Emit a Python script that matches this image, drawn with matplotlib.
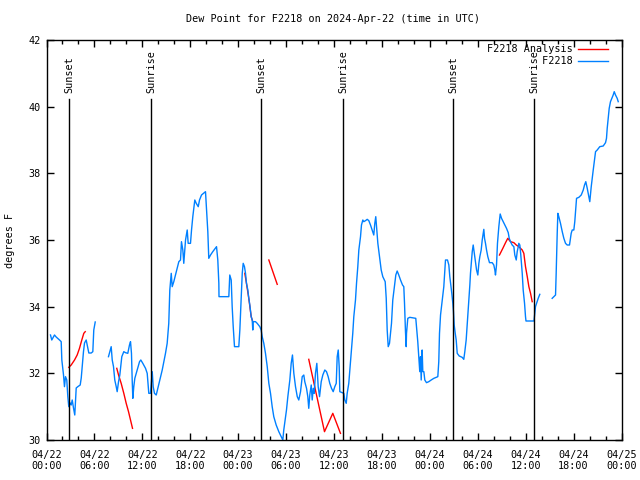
import numpy as np
import pandas as pd
import matplotlib
matplotlib.use("Agg")
import matplotlib.pyplot as plt
import matplotlib.dates as mdates

plt.rcParams['font.family'] = ['DejaVu Sans Mono']
plt.rcParams['font.size'] = 7.3

nan = np.nan
start = pd.Timestamp("2024-04-22 00:00")

# station obs, hours since 04/22 00:00 (nan = missing)
obs_hours = [0.50, 0.66, 1.00, 1.21, 1.63, 1.84, 1.92, 2.13, 2.25, 2.38, 2.54, 2.67, 2.79, 2.97,
             3.09, 3.22, 3.38, 3.54, 3.72, 3.92, 4.22, 4.35, 4.47, 4.63, 4.76, 4.97, 5.10, 5.30,
             5.60, 5.80, 5.92, 6.10, 7.0,
             7.76, 7.93, 8.10, 8.23, 8.39, 8.55, 8.73, 8.85, 9.02, 9.18, 9.43, 9.68, 9.89, 10.18,
             10.39, 10.52, 10.64, 10.73, 10.81, 10.93, 11.06, 11.36, 11.65, 11.81, 12.06, 12.40,
             12.61, 12.74, 12.81, 13.02, 13.24, 13.36, 13.52, 13.74, 13.99, 14.24, 14.49, 14.69,
             14.90, 15.11, 15.31, 15.44, 15.62, 15.74, 15.94, 16.15, 16.37, 16.57, 16.78, 16.90,
             17.07, 17.19, 17.41, 17.62, 17.74, 18.03, 18.16, 18.32, 18.50, 18.57, 18.75, 19.00,
             19.16, 19.41, 19.75, 19.91, 20.07, 20.20, 20.32, 20.54, 20.82, 21.29, 21.45, 21.58,
             21.60, 22.83, 22.95, 23.13, 23.25, 23.38, 23.54, 24.08, 24.21, 24.38, 24.51, 24.63,
             24.79, 24.92, 25.04, 25.21, 25.33, 25.46, 25.63, 25.76, 25.83, 25.88, 26.17, 26.38,
             26.71, 26.88, 27.01, 27.21, 27.42, 27.64, 27.84, 28.05, 28.26, 28.46, 28.76, 29.09,
             29.39, 29.59, 29.71, 30.05, 30.22, 30.47, 30.64, 30.80, 30.97, 31.18, 31.40, 31.59,
             31.81, 32.02, 32.22, 32.34, 32.56, 32.72, 32.84, 32.97, 33.15, 33.27, 33.40, 33.52,
             33.68, 33.85, 34.02, 34.19, 34.40, 34.60, 34.85, 35.06, 35.27, 35.47, 35.69, 35.90,
             36.10, 36.28, 36.40, 36.53, 36.65, 36.73, 37.23, 37.35, 37.53, 37.65, 37.85, 37.98,
             38.15, 38.35, 38.48, 38.69, 38.82, 38.98, 39.11, 39.32, 39.44, 39.61, 39.73, 39.94,
             40.16, 40.36, 40.57, 40.78, 40.98, 41.11, 41.23, 41.36, 41.49, 41.70, 41.91, 42.11,
             42.41, 42.54, 42.66, 42.79, 42.95, 43.08, 43.20, 43.36, 43.58, 43.74, 43.91, 44.11,
             44.33, 44.58, 44.74, 44.83, 44.95, 45.04, 45.08, 45.24, 45.49, 46.24, 46.33, 46.49,
             46.62, 46.74, 46.83, 46.92, 47.04, 47.12, 47.25, 47.37, 47.58, 47.87, 48.17, 48.50,
             49.00, 49.12, 49.21, 49.34, 49.55, 49.75, 49.96, 50.21, 50.38, 50.50, 50.63, 50.75,
             50.88, 50.96, 51.05, 51.18, 51.30, 51.43, 51.68, 52.05, 52.25, 52.38, 52.55, 52.72,
             52.88, 53.01, 53.09, 53.31, 53.43, 53.60, 53.72, 53.85, 54.01, 54.14, 54.26, 54.43,
             54.56, 54.68, 54.76, 54.85, 54.97, 55.10, 55.26, 55.47, 55.81, 56.01, 56.14, 56.22,
             56.35, 56.47, 56.64, 56.81, 56.98, 57.19, 57.39, 57.60, 57.82, 57.94, 58.10, 58.31,
             58.52, 58.64, 58.82, 58.94, 59.07, 59.14, 59.27, 59.39, 59.57, 59.69, 59.86, 59.98,
             60.04, 61.04, 61.23, 61.57, 61.77, 62.5,
             63.32, 63.74, 63.82, 63.95, 64.03, 64.15, 64.36, 64.58, 64.78, 64.99, 65.20, 65.49,
             65.70, 65.83, 66.03, 66.15, 66.28, 66.37, 66.66, 66.96, 67.21, 67.37, 67.53, 67.71,
             67.91, 68.03, 68.21, 68.33, 68.46, 68.62, 68.75, 68.96, 69.28, 69.71, 70.00, 70.12,
             70.21, 70.33, 70.46, 70.62, 70.79, 70.96, 71.09, 71.25, 71.46, 71.59]
obs_dewpt = [33.15, 33.00, 33.15, 33.09, 33.00, 32.95, 32.40, 31.95, 31.60, 31.90, 31.80, 31.30,
             31.00, 31.11, 31.05, 31.20, 30.96, 30.75, 31.56, 31.60, 31.65, 31.86, 32.20, 32.65,
             32.91, 33.00, 32.85, 32.61, 32.61, 32.65, 33.30, 33.54, nan,
             32.50, 32.65, 32.80, 32.40, 32.20, 31.80, 31.60, 31.45, 31.75, 31.95, 32.50, 32.65,
             32.62, 32.60, 32.85, 32.95, 32.60, 31.80, 31.25, 31.60, 31.85, 32.10, 32.35, 32.40,
             32.30, 32.15, 32.00, 31.60, 31.40, 31.40, 32.05, 31.60, 31.40, 31.35, 31.60, 31.85,
             32.10, 32.35, 32.60, 32.90, 33.50, 34.50, 35.00, 34.60, 34.75, 34.95, 35.15, 35.35,
             35.40, 35.95, 35.70, 35.30, 36.00, 36.30, 35.90, 35.90, 36.30, 36.70, 37.05, 37.20,
             37.10, 37.00, 37.20, 37.35, 37.42, 37.45, 36.80, 36.25, 35.45, 35.55, 35.65, 35.80,
             35.40, 34.70, 34.30, 34.30, 34.95, 34.80, 34.00, 33.40, 32.80, 32.80, 33.30, 34.30,
             35.00, 35.30, 35.20, 35.00, 34.70, 34.50, 34.25, 34.05, 33.70, 33.60, 33.30, 33.55,
             33.55, 33.50, 33.40, 33.30, 33.10, 32.90, 32.60, 32.20, 31.70, 31.40, 31.00, 30.70,
             30.45, 30.25, 30.10, 30.00, 30.30, 30.90, 31.30, 31.80, 32.30, 32.55, 32.00, 31.60,
             31.30, 31.20, 31.45, 31.90, 31.95, 31.75, 31.55, 31.30, 30.95, 31.35, 31.65, 31.20,
             31.55, 31.40, 32.00, 32.30, 31.60, 31.30, 31.75, 31.95, 32.10, 32.05, 31.90, 31.70,
             31.55, 31.45, 31.60, 31.70, 32.50, 32.70, 32.20, 31.45, 31.40, 31.20, 31.10, 31.40,
             31.70, 32.10, 32.60, 33.20, 33.70, 34.20, 34.70, 35.20, 35.70, 36.10, 36.45, 36.60,
             36.55, 36.58, 36.62, 36.58, 36.45, 36.30, 36.15, 36.50, 36.70, 36.30, 35.90, 35.50,
             35.10, 34.90, 34.75, 34.25, 33.30, 32.80, 32.90, 33.20, 33.50, 34.20, 34.65, 34.95,
             35.07, 34.95, 34.80, 34.65, 34.60, 34.10, 33.25, 32.80, 33.20, 33.65, 33.68, 33.65,
             33.40, 32.95, 32.50, 32.05, 32.50, 31.80, 32.70, 32.05, 32.05, 31.80, 31.72, 31.75,
             31.80, 31.85, 31.90, 32.35, 33.20, 33.75, 34.20, 34.60, 35.40, 35.40, 35.25, 34.90,
             34.65, 34.40, 34.10, 33.85, 33.45, 33.20, 33.00, 32.60, 32.52, 32.48, 32.42, 32.65,
             33.00, 33.60, 34.20, 34.65, 35.00, 35.65, 35.85, 35.55, 35.35, 35.10, 34.95, 35.30,
             35.50, 35.70, 36.00, 36.20, 36.32, 36.05, 35.90, 35.70, 35.50, 35.32, 35.32, 35.25,
             35.10, 34.95, 35.25, 35.90, 36.40, 36.78, 36.65, 36.55, 36.45, 36.35, 36.22, 36.05,
             35.95, 35.85, 35.80, 35.55, 35.40, 35.65, 35.80, 35.90, 35.85, 35.55, 35.00, 34.50,
             34.10, 33.70, 33.57, 33.57, 34.00, 34.25, 34.37, nan,
             34.25, 34.35, 35.00, 36.20, 36.80, 36.70, 36.50, 36.25, 36.05, 35.90, 35.85, 35.85,
             36.20, 36.30, 36.30, 36.55, 36.95, 37.25, 37.28, 37.35, 37.50, 37.65, 37.75, 37.55,
             37.30, 37.15, 37.60, 37.85, 38.10, 38.40, 38.65, 38.70, 38.80, 38.82, 38.92, 39.05,
             39.35, 39.65, 39.95, 40.15, 40.25, 40.35, 40.45, 40.35, 40.25, 40.15]

# analysis, hours since 04/22 00:00 (nan = break)
ana_hours = [2.79, 3.09, 3.51, 3.84, 4.13, 4.42, 4.67, 4.85, 6.5,
             8.80, 9.02, 9.35, 9.68, 9.98, 10.27, 10.52, 10.77, 12.0,
             24.83, 25.04, 25.33, 25.63, 25.83, 26.5,
             27.84, 28.89, 30.0,
             32.84, 34.81, 35.85, 36.81, 45.0,
             56.72, 57.14, 57.48, 57.76, 58.10, 58.52, 58.82, 59.14, 59.57, 59.77, 59.98, 60.20,
             60.40, 60.61, 60.82]
ana_dewpt = [32.18, 32.25, 32.40, 32.55, 32.75, 33.00, 33.20, 33.25, nan,
             32.15, 31.95, 31.70, 31.40, 31.10, 30.85, 30.60, 30.35, nan,
             35.00, 34.70, 34.25, 33.70, 33.55, nan,
             35.40, 34.67, nan,
             32.42, 30.25, 30.80, 30.20, nan,
             35.55, 35.75, 35.92, 36.05, 35.95, 35.92, 35.85, 35.80, 35.70, 35.60, 35.20, 34.90,
             34.60, 34.40, 34.15]

sunset_hours = [2.85, 26.89, 50.90]
sunrise_hours = [13.13, 37.17, 61.08]


def to_time(h):
    return start + pd.to_timedelta(np.array(h), unit="h")


fig = plt.figure(figsize=(6.4, 4.8), dpi=100)
ax = fig.add_axes([46.5 / 640, 40 / 480, 575 / 640, 400 / 480])

ax.plot(to_time(ana_hours), ana_dewpt, color="#ff0000", lw=1.0, label="F2218 Analysis")
ax.plot(to_time(obs_hours), obs_dewpt, color="#0080ff", lw=1.0, label="         F2218")

# sunrise / sunset markers
for h in sunset_hours:
    t = to_time([h])[0]
    ax.plot([t, t], [30, 40.23], color="black", lw=1.0)
    ax.text(t, 40.42, "Sunset", rotation=90, ha="center", va="bottom")
for h in sunrise_hours:
    t = to_time([h])[0]
    ax.plot([t, t], [30, 40.23], color="black", lw=1.0)
    ax.text(t, 40.42, "Sunrise", rotation=90, ha="center", va="bottom")

ax.set_xlim(start, start + pd.Timedelta(hours=72))
ax.set_ylim(30, 42)
ax.set_yticks(np.arange(30, 43, 2))
ax.xaxis.set_major_locator(mdates.HourLocator(byhour=range(0, 24, 6)))
ax.xaxis.set_minor_locator(mdates.HourLocator(byhour=range(0, 24, 2)))
ax.xaxis.set_major_formatter(mdates.DateFormatter("%m/%d\n%H:%M"))
ax.tick_params(which="both", direction="in", top=True, right=True, width=1)
ax.tick_params(which="major", length=5, pad=7)
ax.tick_params(which="minor", length=3)
ax.tick_params(axis="y", pad=4)
for s in ax.spines.values():
    s.set_linewidth(1.0)

fig.text(333.5 / 640, 1 - 19 / 480, "Dew Point for F2218 on 2024-Apr-22 (time in UTC)",
         ha="center", va="center")
fig.text(10 / 640, 0.5, "degrees F", rotation=90, ha="center", va="center")

ax.legend(loc="upper right", bbox_to_anchor=(1 - 6 / 575, 1 + 3 / 400), frameon=False,
          markerfirst=False, handlelength=3.0, borderaxespad=0.3, labelspacing=0.2,
          handletextpad=0.5)

fig.savefig("out.png", dpi=100)
